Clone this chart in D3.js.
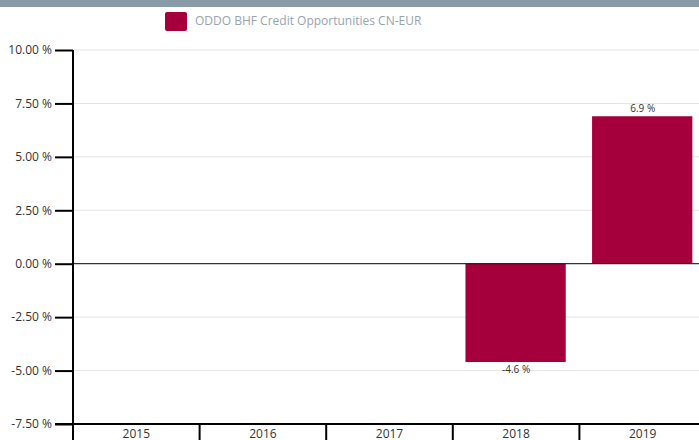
<!DOCTYPE html>
<html>
<head>
<meta charset="utf-8">
<script src="https://cdn.jsdelivr.net/npm/d3@7"></script>
<style>
  body { margin: 0; background: #fff; overflow: hidden; }
  text { font-family: "Open Sans", "DejaVu Sans", sans-serif; }
</style>
</head>
<body>
<div id="chart"></div>
<script>
// data
const years = ["2015", "2016", "2017", "2018", "2019"];
const returns = [null, null, null, -4.6, 6.9];
const yTicks = [-7.5, -5, -2.5, 0, 2.5, 5, 7.5, 10];
const seriesName = "ODDO BHF Credit Opportunities CN-EUR";

const width = 699, height = 440;
const barColor = "#a6003c";

const svg = d3.select("#chart").append("svg")
  .attr("width", width)
  .attr("height", height);

// top band
svg.append("rect").attr("x", 0).attr("y", 0).attr("width", width).attr("height", 7).attr("fill", "#8a9ba8");

// legend
svg.append("rect").attr("x", 165).attr("y", 12).attr("width", 22).attr("height", 19)
  .attr("rx", 2).attr("fill", barColor);
svg.append("text").attr("x", 195).attr("y", 25).attr("fill", "#97a3ae")
  .style("font-size", "12px").text(seriesName);

const y = d3.scaleLinear().domain([-7.5, 10]).range([424, 50]);
const x = d3.scaleBand().domain(years).range([73, 706]).paddingInner(0.2).paddingOuter(0.1);

// gridlines
svg.append("g").selectAll("line").data(yTicks.filter(d => d !== 0 && d !== -7.5)).join("line")
  .attr("x1", 73).attr("x2", width)
  .attr("y1", d => y(d)).attr("y2", d => y(d))
  .attr("stroke", "#e3e3e3");

// bars
const data = years.map((yr, i) => ({ year: yr, v: returns[i] })).filter(d => d.v != null);
svg.append("g").selectAll("rect").data(data).join("rect")
  .attr("x", d => x(d.year))
  .attr("width", x.bandwidth() - 1)
  .attr("y", d => y(Math.max(0, d.v)))
  .attr("height", d => Math.abs(y(d.v) - y(0)))
  .attr("fill", barColor);

svg.append("g").selectAll("text").data(data).join("text")
  .attr("x", d => x(d.year) + x.bandwidth() / 2)
  .attr("y", d => d.v >= 0 ? y(d.v) - 4 : y(d.v) + 11)
  .attr("text-anchor", "middle")
  .attr("fill", "#333")
  .style("font-size", "10px")
  .text(d => d.v.toFixed(1) + " %");

// zero line
svg.append("line").attr("x1", 73).attr("x2", width).attr("y1", y(0)).attr("y2", y(0))
  .attr("stroke", "#000").attr("stroke-width", 1);

// y axis
const yAxis = d3.axisLeft(y).tickValues(yTicks).tickSize(18).tickPadding(3)
  .tickFormat(d => d.toFixed(2) + " %");
const yg = svg.append("g").attr("transform", "translate(73,0)").call(yAxis);
yg.select(".domain").remove();
yg.selectAll(".tick line").attr("stroke", "#000").attr("stroke-width", 2);
yg.selectAll(".tick text").attr("fill", "#333").style("font-size", "12px");
svg.append("line").attr("x1", 73).attr("x2", 73).attr("y1", 50).attr("y2", height)
  .attr("stroke", "#000").attr("stroke-width", 2);

// x axis at bottom
svg.append("line").attr("x1", 55).attr("x2", width).attr("y1", 424).attr("y2", 424)
  .attr("stroke", "#000").attr("stroke-width", 2);
const step = x.step();
svg.append("g").selectAll("line").data(years).join("line")
  .attr("x1", d => x(d) - step * 0.1).attr("x2", d => x(d) - step * 0.1)
  .attr("y1", 424).attr("y2", height)
  .attr("stroke", "#000").attr("stroke-width", 2);
svg.append("g").selectAll("text").data(years).join("text")
  .attr("x", d => x(d) + x.bandwidth() / 2)
  .attr("y", 438)
  .attr("text-anchor", "middle")
  .attr("fill", "#333")
  .style("font-size", "12px")
  .text(d => d);
</script>
</body>
</html>
